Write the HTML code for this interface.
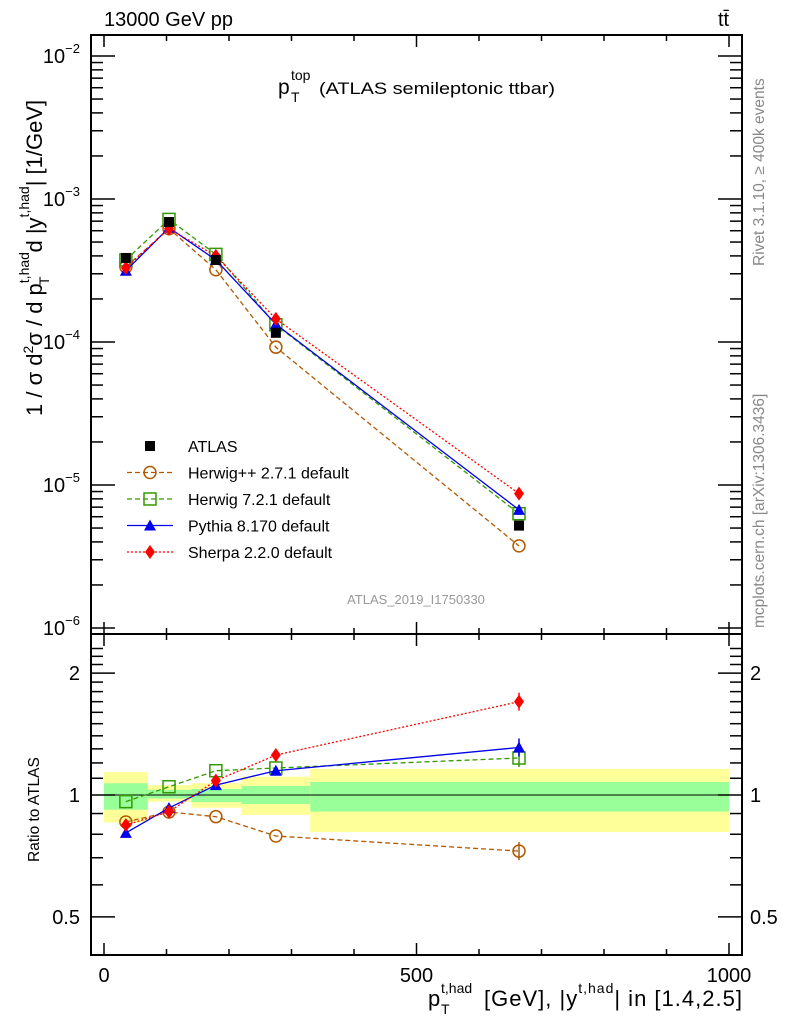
<!DOCTYPE html>
<html><head><meta charset="utf-8"><style>
body{margin:0;background:#fff;width:786px;height:1024px;overflow:hidden}
svg{font-family:"Liberation Sans",sans-serif}
</style></head><body>
<svg id="c" width="786" height="1024">
<text x="104" y="26" font-size="20">13000 GeV pp</text>
<text x="718" y="26" font-size="20">tt̄</text>
<g>
<text x="278" y="94" font-size="21">p</text>
<text x="291" y="80" font-size="14">top</text>
<text x="291" y="102" font-size="14">T</text>
<text x="319" y="94" font-size="17" textLength="236" lengthAdjust="spacingAndGlyphs">(ATLAS semileptonic ttbar)</text>
</g>
<text x="416" y="604" font-size="13" fill="#999" text-anchor="middle">ATLAS_2019_I1750330</text>
<text transform="translate(764,266) rotate(-90)" font-size="15.5" fill="#888">Rivet 3.1.10, ≥ 400k events</text>
<text transform="translate(764,628) rotate(-90)" font-size="15.5" fill="#888">mcplots.cern.ch [arXiv:1306.3436]</text>
<text transform="translate(42,416) rotate(-90)" font-size="22">1 / σ d<tspan font-size="14" dy="-9">2</tspan><tspan dy="9">σ / d p</tspan><tspan font-size="14" dy="-13">t,had</tspan><tspan font-size="14" dx="-33" dy="20">T</tspan><tspan dx="24" dy="-7">d |y</tspan><tspan font-size="14" dy="-13">t,had</tspan><tspan dy="13">| [1/GeV]</tspan></text>
<text transform="translate(39,862) rotate(-90)" font-size="15.5">Ratio to ATLAS</text>
<g>
<text x="428" y="1006" font-size="22">p</text>
<text x="441" y="993" font-size="14">t,had</text>
<text x="441" y="1014" font-size="14">T</text>
<text x="484" y="1006" font-size="22" textLength="258" lengthAdjust="spacing">[GeV], |y<tspan font-size="14" dy="-13">t,had</tspan><tspan dy="13">| in [1.4,2.5]</tspan></text>
</g>
</svg>
<script>
const xVals=[35,104,179,275,664];
const atlas=[3.87e-4,6.9e-4,3.75e-4,1.16e-4,5.2e-6];
const herwigpp=[3.35e-4,6.2e-4,3.2e-4,9.2e-5,3.75e-6];
const herwig7=[3.75e-4,7.2e-4,4.1e-4,1.32e-4,6.3e-6];
const pythia=[3.15e-4,6.3e-4,3.75e-4,1.33e-4,6.7e-6];
const sherpa=[3.3e-4,6.2e-4,4.0e-4,1.45e-4,8.7e-6];
const rHerwigpp=[0.858,0.908,0.884,0.792,0.727];
const rHerwig7=[0.963,1.048,1.148,1.166,1.234];
const rPythia=[0.806,0.929,1.058,1.148,1.31];
const rSherpa=[0.843,0.909,1.085,1.255,1.70];
const binEdges=[0,70,140,220,330,1000];
const yellowUp=[1.14,1.058,1.069,1.11,1.16];
const yellowDn=[0.855,0.963,0.93,0.893,0.81];
const greenUp=[1.069,1.03,1.035,1.053,1.077];
const greenDn=[0.92,0.98,0.96,0.95,0.91];
const xTicks=[0,500,1000];
const mainTicks=[-2,-3,-4,-5,-6];
const ratioTicks=[2,1,0.5];
const ratioTickLabels=["2","1","0.5"];

const S=document.getElementById('c'),NS='http://www.w3.org/2000/svg';
function el(t,a,p){const e=document.createElementNS(NS,t);for(const k in a)e.setAttribute(k,a[k]);(p||S).appendChild(e);return e;}
const L=91,R=742,T=35,M=634,B=955;
const X=v=>104+v*0.625;
const Y=v=>342-(Math.log10(v)+4)*143;
const YR=v=>795-Math.log10(v)*405;

for(let i=0;i<5;i++){
 const b=el('rect',{x:X(binEdges[i]),y:YR(yellowUp[i]),width:X(binEdges[i+1])-X(binEdges[i]),height:YR(yellowDn[i])-YR(yellowUp[i]),fill:'#ffff99'});
 
 
 const g=el('rect',{x:X(binEdges[i]),y:YR(greenUp[i]),width:X(binEdges[i+1])-X(binEdges[i]),height:YR(greenDn[i])-YR(greenUp[i]),fill:'#99ff99'});
 
 
}
const ref=el('line',{x1:X(0),x2:X(1000),y1:YR(1),y2:YR(1),stroke:'#000','stroke-width':1});



const f1=el('rect',{x:L,y:T,width:R-L,height:M-T,fill:'none',stroke:'#000','stroke-width':2});


const f2=el('rect',{x:L,y:M,width:R-L,height:B-M,fill:'none',stroke:'#000','stroke-width':2});



for(let v=0;v<=1000;v+=100){
 const big=v%500===0,len=big?12:6;
 [[T,1],[M,-1],[M,1],[B,-1]].forEach(([y0,d])=>{const t=el('line',{x1:X(v),x2:X(v),y1:y0,y2:y0+d*len,stroke:'#000','stroke-width':1.5});});
}
xTicks.forEach(v=>{const t=el('text',{x:X(v),y:982,'font-size':20,'text-anchor':'middle'});t.textContent=v;});

for(let d=-6;d<=-3;d++)for(let m=1;m<10;m++){
 const v=m*Math.pow(10,d),y=Y(v);if(y<T||y>M)continue;
 const len=m===1?24:12;
 [[L,1],[R,-1]].forEach(([x0,s])=>{const t=el('line',{x1:x0,x2:x0+s*len,y1:y,y2:y,stroke:'#000','stroke-width':1.5});});
}
[[L,1],[R,-1]].forEach(([x0,s])=>{const t=el('line',{x1:x0,x2:x0+s*24,y1:Y(1e-2),y2:Y(1e-2),stroke:'#000','stroke-width':1.5});});
mainTicks.forEach(d=>{const t=el('text',{x:80,y:Y(Math.pow(10,d))+7,'font-size':20,'text-anchor':'end'});t.innerHTML='10<tspan font-size="13" dy="-10">−'+(-d)+'</tspan>';});

[0.5,0.6,0.7,0.8,0.9,1,1.1,1.2,1.3,1.4,1.5,1.6,1.7,1.8,1.9,2,2.1,2.2,2.3].forEach(v=>{
 const y=YR(v);if(y<M||y>B)return;const len=(v===0.5||v===1||v===2)?24:12;
 [[L,1],[R,-1]].forEach(([x0,s])=>{const t=el('line',{x1:x0,x2:x0+s*len,y1:y,y2:y,stroke:'#000','stroke-width':1.5});});
});
ratioTicks.forEach((v,i)=>{
 const t=el('text',{x:80,y:YR(v)+7,'font-size':20,'text-anchor':'end'});t.textContent=ratioTickLabels[i];
 const t2=el('text',{x:750,y:YR(v)+7,'font-size':20});t2.textContent=ratioTickLabels[i];
});

function marker(type,col,x,y,g){
 if(type==='sq')el('rect',{x:x-5,y:y-5,width:10,height:10,fill:'#000'},g);
 if(type==='osq')el('rect',{x:x-6,y:y-6,width:12,height:12,fill:'none',stroke:col,'stroke-width':1.5},g);
 if(type==='oc')el('circle',{cx:x,cy:y,r:6,fill:'none',stroke:col,'stroke-width':1.5},g);
 if(type==='tri')el('polygon',{points:`${x},${y-6} ${x-6},${y+5} ${x+6},${y+5}`,fill:col},g);
 if(type==='dia')el('polygon',{points:`${x},${y-7} ${x-5},${y} ${x},${y+7} ${x+5},${y}`,fill:col},g);
}
const series=[
 {n:'herwigpp',v:herwigpp,r:rHerwigpp,c:'#b35900',m:'oc',d:'5,3',lab:'Herwig++ 2.7.1 default'},
 {n:'herwig7',v:herwig7,r:rHerwig7,c:'#339900',m:'osq',d:'5,3',lab:'Herwig 7.2.1 default'},
 {n:'pythia',v:pythia,r:rPythia,c:'#0000ee',m:'tri',d:'',lab:'Pythia 8.170 default'},
 {n:'sherpa',v:sherpa,r:rSherpa,c:'#ff0000',m:'dia',d:'2,2',lab:'Sherpa 2.2.0 default'}];
series.forEach(s=>{
 const g=el('g',{});
 el('polyline',{points:xVals.map((x,i)=>X(x)+','+Y(s.v[i])).join(' '),fill:'none',stroke:s.c,'stroke-width':1.3,'stroke-dasharray':s.d},g);
 xVals.forEach((x,i)=>marker(s.m,s.c,X(x),Y(s.v[i]),g));
 const gr=el('g',{});
 el('polyline',{points:xVals.map((x,i)=>X(x)+','+YR(s.r[i])).join(' '),fill:'none',stroke:s.c,'stroke-width':1.3,'stroke-dasharray':s.d},gr);
 el('line',{x1:X(xVals[4]),x2:X(xVals[4]),y1:YR(s.r[4])-9,y2:YR(s.r[4])+9,stroke:s.c,'stroke-width':1.5},gr);
 xVals.forEach((x,i)=>marker(s.m,s.c,X(x),YR(s.r[i]),gr));
});
const ga=el('g',{});
xVals.forEach((x,i)=>marker('sq','#000',X(x),Y(atlas[i]),ga));

const legend=[{m:'sq',c:'#000',d:null,lab:'ATLAS'}].concat(series.map(s=>({m:s.m,c:s.c,d:s.d,lab:s.lab})));
legend.forEach((l,i)=>{
 const y=446+i*26.5;
 const g=el('g',{});
 if(l.d!==null)el('line',{x1:127,x2:173,y1:y,y2:y,stroke:l.c,'stroke-width':1.3,'stroke-dasharray':l.d},g);
 marker(l.m,l.c,150,y,g);
 const t=el('text',{x:188,y:y+6,'font-size':16},g);t.textContent=l.lab;
});
</script>
</body></html>
